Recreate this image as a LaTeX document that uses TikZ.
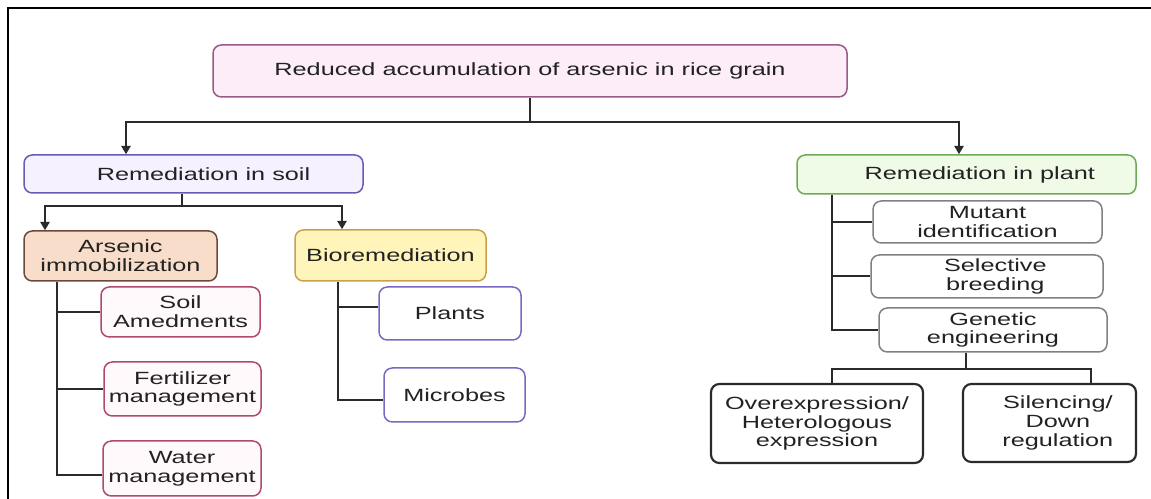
\documentclass[tikz,border=0pt]{standalone}
\usepackage{fontspec}
\setmainfont{Liberation Sans}[FakeStretch=1.43]
\usetikzlibrary{arrows.meta}

\definecolor{textgray}{HTML}{222222}
\definecolor{linegray}{HTML}{2A2A2A}
\definecolor{goalfill}{HTML}{FCEDF9}
\definecolor{goaledge}{HTML}{9A5A86}
\definecolor{soilfill}{HTML}{F5F1FF}
\definecolor{soiledge}{HTML}{6A5AB2}
\definecolor{plantfill}{HTML}{EFFAE7}
\definecolor{plantedge}{HTML}{6CAC56}
\definecolor{immofill}{HTML}{F8DDCA}
\definecolor{immoedge}{HTML}{6B4A3C}
\definecolor{biofill}{HTML}{FFF5BA}
\definecolor{bioedge}{HTML}{C9A14A}
\definecolor{soilsubedge}{HTML}{B04A6A}
\definecolor{soilsubfill}{HTML}{FFF9FC}
\definecolor{biosubedge}{HTML}{7A68C2}
\definecolor{plantsubedge}{HTML}{808080}

\newcommand{\pxu}{0.6pt}

\tikzset{
  every node/.style={font=\fontsize{10.6}{11.2}\selectfont, text=textgray, align=center},
  rbox/.style={draw, rounded corners=5pt, line width=0.9pt, inner sep=0pt, fill=white},
  boxsize/.style 2 args={minimum width=#1*\pxu, minimum height=#2*\pxu},
  link/.style={line width=1.2pt, draw=linegray},
  arr/.style={link, -{Triangle[length=5pt,width=5.5pt]}}
}

\begin{document}
\begin{tikzpicture}[x=0.6pt, y=-0.6pt]

\useasboundingbox (0,0) rectangle (1151,499);
\draw[line width=1.5pt] (8,499) -- (8,8) -- (1151,8);

\node[rbox, draw=goaledge, fill=goalfill, boxsize={634}{52}] (goal) at (530,71) {Reduced accumulation of arsenic in rice grain};

\node[rbox, draw=soiledge, fill=soilfill, boxsize={339}{38}] (soil) at (193.5,174) {\hspace{12pt}Remediation in soil};
\node[rbox, draw=plantedge, fill=plantfill, boxsize={339}{39}] (plant) at (966.5,174.5) {\hspace{16pt}Remediation in plant};

\node[rbox, draw=immoedge, fill=immofill, boxsize={193}{50}] (immo) at (120.5,256) {Arsenic\\immobilization};
\node[rbox, draw=bioedge, fill=biofill, boxsize={191}{51}] (bio) at (390.5,255.5) {Bioremediation};

\node[rbox, draw=soilsubedge, fill=soilsubfill, boxsize={159}{50}] (amend) at (180.5,312) {Soil\\Amedments};
\node[rbox, draw=soilsubedge, fill=soilsubfill, boxsize={157}{54}] (fert) at (182.5,389) {Fertilizer\\management};
\node[rbox, draw=soilsubedge, fill=soilsubfill, boxsize={158}{55}] (water) at (182,468.5) {Water\\management};

\node[rbox, draw=biosubedge, boxsize={142}{53}] (plants) at (450,313.5) {Plants};
\node[rbox, draw=biosubedge, boxsize={141}{54}] (microbes) at (454.5,395) {Microbes};

\node[rbox, draw=plantsubedge, boxsize={229}{42}] (mutant) at (987.5,222) {Mutant\\identification};
\node[rbox, draw=plantsubedge, boxsize={232}{43}] (breed) at (987,276.5) {\hspace{10pt}Selective\\\hspace{10pt}breeding};
\node[rbox, draw=plantsubedge, boxsize={228}{44}] (genetic) at (993,330) {Genetic\\engineering};

\node[rbox, draw=linegray, line width=1.3pt, boxsize={212}{79}] (overexp) at (817,423.5) {Overexpression/\\Heterologous\\expression};
\node[rbox, draw=linegray, line width=1.3pt, boxsize={173}{78}] (silence) at (1049.5,423) {\hspace{10pt}Silencing/\\\hspace{10pt}Down\\\hspace{10pt}regulation};

\coordinate (goaljoin) at (530,122);
\draw[link] (goal) -- (goaljoin);
\draw[arr] (goaljoin) -| (126,0 |- soil.north);
\draw[arr] (goaljoin) -| (959,0 |- plant.north);

\coordinate (soiljoin) at (182,206);
\draw[link] (182,0 |- soil.south) -- (soiljoin);
\draw[arr] (soiljoin) -| (45,0 |- immo.north);
\draw[arr] (soiljoin) -| (342,0 |- bio.north);

\draw[link] (57,0 |- immo.south) |- (water.west |- 0,475);
\draw[link] (57,0 |- amend.west) -- (amend.west);
\draw[link] (57,0 |- fert.west) -- (fert.west);

\draw[link] (338,0 |- bio.south) |- (microbes.west |- 0,400);
\draw[link] (338,307) -- (plants.west |- 0,307);

\draw[link] (832,0 |- plant.south) |- (genetic.west);
\draw[link] (832,0 |- mutant.west) -- (mutant.west);
\draw[link] (832,0 |- breed.west) -- (breed.west);

\coordinate (genjoin) at (966,369);
\draw[link] (966,0 |- genetic.south) -- (genjoin);
\draw[link] (genjoin) -| (832,0 |- overexp.north);
\draw[link] (genjoin) -| (1091,0 |- silence.north);

\end{tikzpicture}
\end{document}
